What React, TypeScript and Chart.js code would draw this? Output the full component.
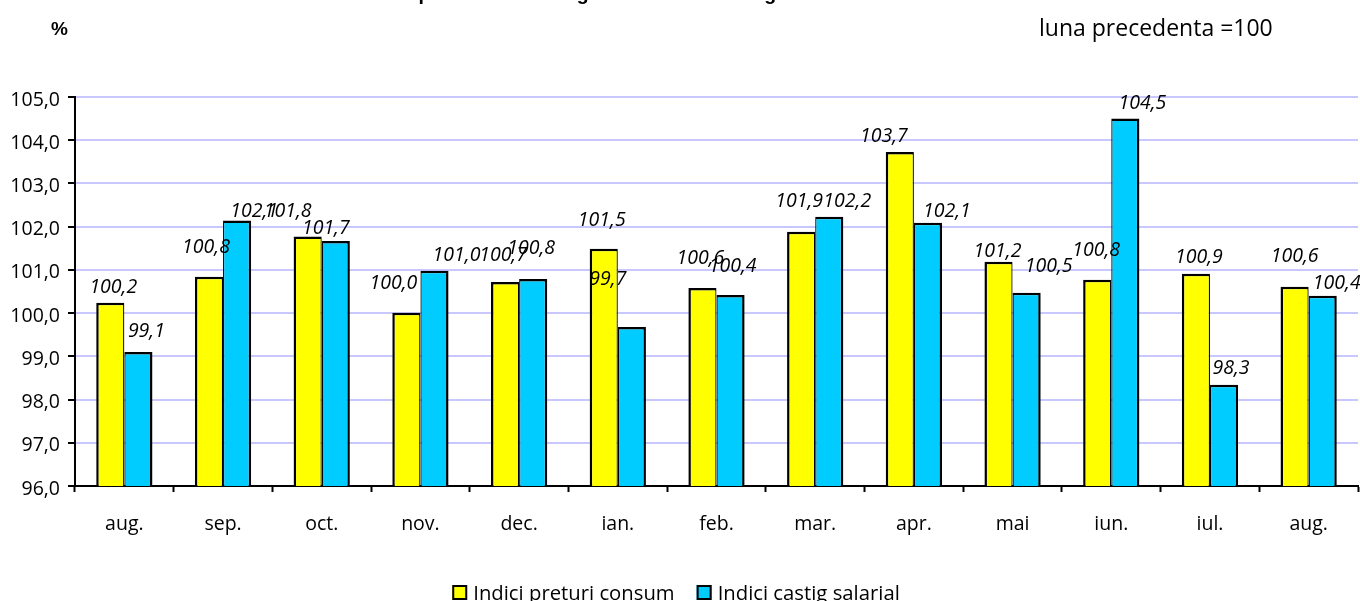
import React, { useEffect, useRef } from "react";
import { Chart, registerables } from "chart.js";

Chart.register(...registerables);

// ---------- data ----------
const categories = ["aug.", "sep.", "oct.", "nov.", "dec.", "ian.", "feb.", "mar.", "apr.", "mai", "iun.", "iul.", "aug."];
const consumerPriceIndex = [100.24, 100.84, 101.77, 100.01, 100.72, 101.49, 100.58, 101.88, 103.73, 101.19, 100.77, 100.91, 100.61];
const wageIndex = [99.1, 102.14, 101.67, 100.98, 100.79, 99.68, 100.42, 102.23, 102.09, 100.47, 104.5, 98.34, 100.4];
const seriesNames = ["Indici preturi consum", "Indici castig salarial"];
const yMin = 96;
const yMax = 105;
const yStep = 1;

// ---------- label nudges (px, relative to the bar top) ----------
const consumerLabelDx = [3, -3, -20, -13, -2, -2, -2, -2, -16, -1, -1, 3, 0];
const consumerLabelGap = [17, 31, 27, 31, 28, 30, 31, 32, 17, 12, 31, 18, 32];
const wageLabelDx = [8, 17, -10, 22, -2, -24, 2, 18, 19, 22, 17, 7, 14];
const wageLabelGap = [22, 11, 14, 17, 32, 49, 30, 17, 13, 28, 17, 18, 14];

const FONT = "'Open Sans', sans-serif";
const YELLOW = "#FFFF00";
const BLUE = "#00CCFF";

const fmt = (v: number) => v.toFixed(1).replace(".", ",");

const valueLabels = {
  id: "valueLabels",
  afterDatasetsDraw(chart: any) {
    const ctx = chart.ctx;
    const nudges = [
      { dx: consumerLabelDx, gap: consumerLabelGap },
      { dx: wageLabelDx, gap: wageLabelGap },
    ];
    ctx.save();
    ctx.font = `italic 19.5px ${FONT}`;
    ctx.fillStyle = "#000";
    ctx.textAlign = "center";
    ctx.textBaseline = "alphabetic";
    chart.data.datasets.forEach((ds: any, di: number) => {
      const meta = chart.getDatasetMeta(di);
      meta.data.forEach((bar: any, i: number) => {
        const v = ds.data[i] as number;
        ctx.fillText(fmt(v), bar.x + nudges[di].dx[i], bar.y - nudges[di].gap[i] + 7);
      });
    });
    ctx.restore();
  },
};

const customLegend = {
  id: "customLegend",
  afterDraw(chart: any) {
    const ctx = chart.ctx;
    ctx.save();
    ctx.font = `20.3px ${FONT}`;
    const box = 15;
    const gapText = 6;
    const gapItem = 22;
    const items = chart.data.datasets.map((ds: any) => ({
      text: ds.label as string,
      color: ds.backgroundColor as string,
      w: ctx.measureText(ds.label).width,
    }));
    const total = items.reduce((s: number, it: any) => s + box + gapText + it.w, 0) + gapItem * (items.length - 1);
    let x = 676 - total / 2;
    const mid = 592.5;
    items.forEach((it: any) => {
      ctx.fillStyle = it.color;
      ctx.fillRect(x, mid - box / 2, box, box);
      ctx.strokeStyle = "#000";
      ctx.lineWidth = 2;
      ctx.strokeRect(x + 1, mid - box / 2 + 1, box - 2, box - 2);
      ctx.fillStyle = "#000";
      ctx.textAlign = "left";
      ctx.textBaseline = "alphabetic";
      ctx.fillText(it.text, x + box + gapText, mid + 7);
      x += box + gapText + it.w + gapItem;
    });
    ctx.restore();
  },
};

export default function App() {
  const canvasRef = useRef<HTMLCanvasElement | null>(null);

  useEffect(() => {
    const canvas = canvasRef.current;
    if (!canvas) return;
    const chart = new Chart(canvas, {
      type: "bar",
      data: {
        labels: categories,
        datasets: [
          {
            label: seriesNames[0],
            data: consumerPriceIndex,
            backgroundColor: YELLOW,
            borderColor: "#000",
            borderWidth: { top: 2.5, left: 2.5, right: 1.25, bottom: 0 },
            borderSkipped: "start",
            categoryPercentage: 0.57,
            barPercentage: 1,
          },
          {
            label: seriesNames[1],
            data: wageIndex,
            backgroundColor: BLUE,
            borderColor: "#000",
            borderWidth: { top: 2.5, left: 1.25, right: 2.5, bottom: 0 },
            borderSkipped: "start",
            categoryPercentage: 0.57,
            barPercentage: 1,
          },
        ],
      },
      options: {
        responsive: false,
        animation: false,
        layout: { padding: { top: 97, right: 2, bottom: 0, left: 0 } },
        plugins: {
          legend: { display: false },
          tooltip: { enabled: false },
          title: { display: false },
        },
        scales: {
          x: {
            offset: true,
            grid: {
              offset: true,
              drawOnChartArea: false,
              drawTicks: true,
              tickLength: 6,
              tickColor: "#000",
              tickWidth: 2,
              color: "#000",
            },
            border: { color: "#000", width: 2 },
            ticks: {
              color: "#000",
              font: { family: FONT, size: 19.5 },
              padding: 21,
              maxRotation: 0,
              autoSkip: false,
            },
            afterFit: (s: any) => {
              s.height = 115;
            },
          },
          y: {
            min: yMin,
            max: yMax,
            ticks: {
              stepSize: yStep,
              color: "#000",
              font: { family: FONT, size: 19.5 },
              padding: 8,
              labelOffset: 3,
              callback: (v: any) => fmt(Number(v)),
            },
            grid: {
              color: "#C8C8FF",
              lineWidth: 2,
              tickColor: "#000",
              tickLength: 7,
              tickWidth: 2,
            },
            border: { color: "#000", width: 2 },
            afterFit: (s: any) => {
              s.width = 75;
            },
          },
        },
      },
      plugins: [valueLabels, customLegend],
    } as any);
    return () => chart.destroy();
  }, []);

  return (
    <div style={{ position: "absolute", left: 0, top: 0, width: 1360, height: 601, overflow: "hidden", background: "#fff" }}>
      <canvas
        ref={canvasRef}
        width={1360}
        height={601}
        style={{ position: "absolute", left: 0, top: 0, width: 1360, height: 601 }}
      />
      <div
        style={{
          position: "absolute",
          left: 256,
          top: -16,
          font: "bold 19.5px 'Liberation Sans', Arial, sans-serif",
          lineHeight: "19.5px",
          whiteSpace: "nowrap",
          color: "#000",
        }}
      >
        Evolutia indicilor preturilor si castigului salarial real august 2013
      </div>
      <div
        style={{
          position: "absolute",
          left: 51,
          top: 19,
          font: "bold 19px 'Liberation Sans', Arial, sans-serif",
          lineHeight: "19px",
          color: "#000",
        }}
      >
        %
      </div>
      <div
        style={{
          position: "absolute",
          left: 1039,
          top: 15.6,
          font: `23px ${FONT}`,
          lineHeight: "23px",
          whiteSpace: "nowrap",
          color: "#000",
        }}
      >
        luna precedenta =100
      </div>
    </div>
  );
}
